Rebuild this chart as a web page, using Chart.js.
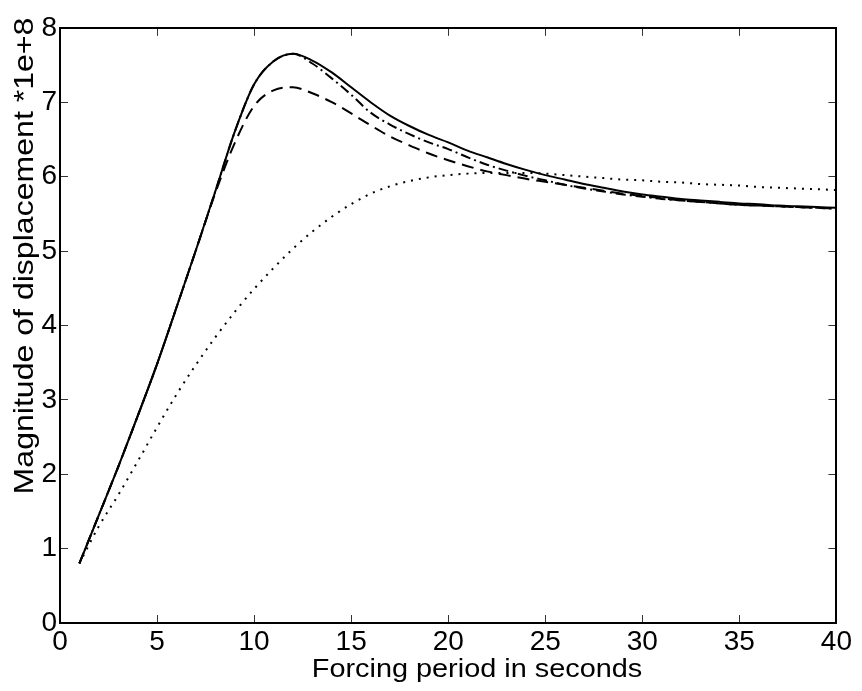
<!DOCTYPE html>
<html>
<head>
<meta charset="utf-8">
<script src="https://cdn.jsdelivr.net/npm/chart.js@4/dist/chart.umd.min.js"></script>
<style>
  html, body { margin: 0; padding: 0; background: #fff; }
  #wrap { width: 862px; height: 691px; }
</style>
</head>
<body>
<div id="wrap"><canvas id="resp-chart" width="862" height="691"></canvas></div>
<script>
// forcing period (s)
const periods = [1, 2, 3, 4, 5, 6, 7, 8, 9, 10, 11, 12, 13, 14, 15, 16, 17, 18, 19, 20,
                 21, 22, 23, 24, 25, 26, 27, 28, 29, 30, 31, 32, 33, 34, 35, 36, 37, 38, 39, 40];

// magnitude of displacement * 1e+8
const solidVals = [0.80, 1.45, 2.10, 2.78, 3.48, 4.24, 5.01, 5.80, 6.60, 7.24, 7.55, 7.65, 7.56, 7.40, 7.20, 7.00, 6.82, 6.68, 6.56, 6.46,
                   6.35, 6.26, 6.17, 6.09, 6.02, 5.96, 5.90, 5.85, 5.80, 5.76, 5.73, 5.70, 5.68, 5.66, 5.64, 5.63, 5.61, 5.60, 5.59, 5.58];
const dashDotVals = [0.80, 1.45, 2.10, 2.78, 3.48, 4.24, 5.01, 5.80, 6.60, 7.24, 7.55, 7.65, 7.52, 7.32, 7.10, 6.86, 6.70, 6.57, 6.46, 6.37,
                     6.26, 6.16, 6.08, 6.01, 5.95, 5.89, 5.84, 5.80, 5.76, 5.73, 5.70, 5.68, 5.66, 5.64, 5.62, 5.61, 5.60, 5.59, 5.58, 5.57];
const dashedVals = [0.80, 1.45, 2.10, 2.78, 3.48, 4.24, 5.01, 5.78, 6.45, 6.95, 7.16, 7.20, 7.12, 7.00, 6.85, 6.69, 6.54, 6.42, 6.31, 6.22,
                    6.14, 6.07, 6.02, 5.97, 5.93, 5.89, 5.85, 5.81, 5.77, 5.74, 5.71, 5.68, 5.66, 5.64, 5.62, 5.61, 5.60, 5.59, 5.58, 5.57];
const dottedVals = [0.80, 1.30, 1.72, 2.17, 2.63, 3.07, 3.47, 3.84, 4.18, 4.49, 4.77, 5.03, 5.26, 5.46, 5.63, 5.77, 5.87, 5.94, 5.99, 6.02,
                    6.04, 6.05, 6.05, 6.05, 6.04, 6.02, 6.00, 5.98, 5.96, 5.95, 5.93, 5.92, 5.90, 5.89, 5.88, 5.86, 5.85, 5.84, 5.83, 5.82];

const xTicks = [0, 5, 10, 15, 20, 25, 30, 35, 40];
const yTicks = [0, 1, 2, 3, 4, 5, 6, 7, 8];

const xTitle = 'Forcing period in seconds';
const yTitle = 'Magnitude of displacement *1e+8';

const FONT = '"Liberation Sans", Arial, Helvetica, sans-serif';

function pts(vals) {
    return periods.map((p, i) => ({ x: p, y: vals[i] }));
}

function line(vals, dash) {
    return {
        data: pts(vals),
        borderColor: '#000',
        borderWidth: 2,
        borderDash: dash,
        pointRadius: 0,
        fill: false,
        cubicInterpolationMode: 'monotone'
    };
}

// matlab style axis titles, text is a bit wider than the tick font
const axisTitles = {
    id: 'axisTitles',
    afterDraw(chart) {
        const ctx = chart.ctx;
        ctx.save();
        ctx.fillStyle = '#000';
        ctx.font = '26px ' + FONT;
        ctx.textAlign = 'center';
        ctx.textBaseline = 'alphabetic';
        ctx.save();
        ctx.translate(477, 677);
        ctx.scale(1.11, 1);
        ctx.fillText(xTitle, 0, 0);
        ctx.restore();

        ctx.font = '28px ' + FONT;
        ctx.translate(33, 256);
        ctx.rotate(-Math.PI / 2);
        ctx.scale(1.145, 1);
        ctx.fillText(yTitle, 0, 0);
        ctx.restore();
    }
};

const tickFont = { family: FONT, size: 28 };

function fixSize(prop, val) {
    return function(scale) { scale[prop] = val; };
}

new Chart(document.getElementById('resp-chart'), {
    type: 'line',
    data: {
        datasets: [
            line(dottedVals, [2, 6]),
            line(dashedVals, [12, 7]),
            line(dashDotVals, [10, 4, 2, 4]),
            line(solidVals, [])
        ]
    },
    options: {
        responsive: false,
        animation: false,
        layout: { padding: 0 },
        plugins: {
            legend: { display: false },
            tooltip: { enabled: false }
        },
        scales: {
            x: {
                type: 'linear',
                position: 'bottom',
                min: 0,
                max: 40,
                afterBuildTicks: (s) => { s.ticks = xTicks.map(v => ({ value: v })); },
                afterFit: fixSize('height', 68),
                border: { color: '#000', width: 2 },
                grid: { drawOnChartArea: false, tickLength: -8, color: '#333', lineWidth: 1 },
                ticks: { color: '#000', font: tickFont, padding: 10, maxRotation: 0 }
            },
            x2: {
                type: 'linear',
                position: 'top',
                min: 0,
                max: 40,
                afterBuildTicks: (s) => { s.ticks = xTicks.map(v => ({ value: v })); },
                afterFit: fixSize('height', 9),
                border: { color: '#000', width: 2 },
                grid: { drawOnChartArea: false, tickLength: -8, color: '#333', lineWidth: 1 },
                ticks: { display: false }
            },
            y: {
                type: 'linear',
                position: 'left',
                min: 0,
                max: 8,
                afterBuildTicks: (s) => { s.ticks = yTicks.map(v => ({ value: v })); },
                afterFit: fixSize('width', 60),
                border: { color: '#000', width: 2 },
                grid: { drawOnChartArea: false, tickLength: -8, color: '#333', lineWidth: 1 },
                ticks: { color: '#000', font: tickFont, padding: 11 }
            },
            y2: {
                type: 'linear',
                position: 'right',
                min: 0,
                max: 8,
                afterBuildTicks: (s) => { s.ticks = yTicks.map(v => ({ value: v })); },
                afterFit: fixSize('width', 23),
                border: { color: '#000', width: 2 },
                grid: { drawOnChartArea: false, tickLength: -8, color: '#333', lineWidth: 1 },
                ticks: { display: false }
            }
        }
    },
    plugins: [axisTitles]
});
</script>
</body>
</html>
